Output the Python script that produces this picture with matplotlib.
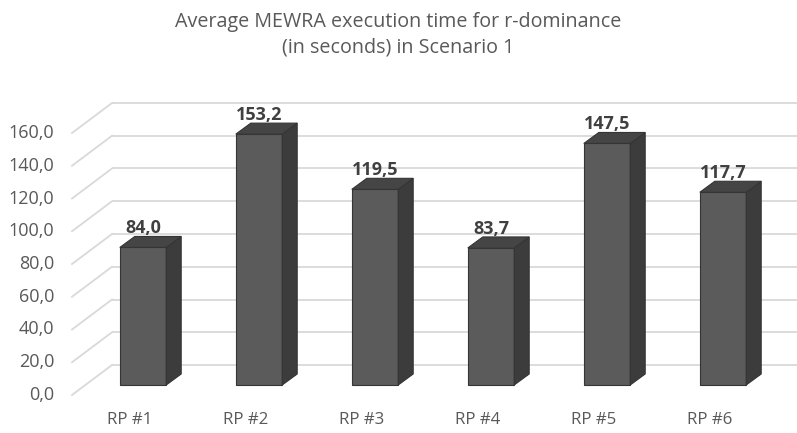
import matplotlib
matplotlib.use("Agg")
import matplotlib.pyplot as plt
from matplotlib.patches import Polygon

categories = ["RP #1", "RP #2", "RP #3", "RP #4", "RP #5", "RP #6"]
values = [84.0, 153.2, 119.5, 83.7, 147.5, 117.7]
value_labels = ["84,0", "153,2", "119,5", "83,7", "147,5", "117,7"]
y_ticks = [0, 20, 40, 60, 80, 100, 120, 140, 160]
y_tick_labels = ["0,0", "20,0", "40,0", "60,0", "80,0", "100,0", "120,0", "140,0", "160,0"]
title = "Average MEWRA execution time for r-dominance\n(in seconds) in Scenario 1"

W, H, DPI = 797, 433, 100
FONT = ["Open Sans", "DejaVu Sans"]

fig = plt.figure(figsize=(W / DPI, H / DPI), dpi=DPI)
fig.patch.set_facecolor("white")

# axes plane = front faces of the bars
ax_left, ax_right = 85, 781
ax_bottom_px, ax_top_px = 385, 123
ax = fig.add_axes([ax_left / W, (H - ax_bottom_px) / H,
                   (ax_right - ax_left) / W, (ax_bottom_px - ax_top_px) / H])
ax.set_xlim(-0.5, len(categories) - 0.5)
ax.set_ylim(0, 160)
ax.axis("off")

px_x = (ax_right - ax_left) / len(categories)   # pixels per category
px_y = (ax_bottom_px - ax_top_px) / 160.0        # pixels per value unit


def shift(dx_px, dy_px):
    """Pixel offset (right, up) expressed in data units."""
    return dx_px / px_x, dy_px / px_y


def px_to_x(px):
    return -0.5 + (px - ax_left) / px_x


# depth planes relative to the bar front plane
front_dx, front_dy = shift(-13.3, -10)   # wall front edge (tick labels)
back_dx, back_dy = shift(26.7, 20)       # back wall
bar_dx, bar_dy = shift(15, 11)           # bar depth

grid_col = "#d9d9d9"
wall_x0 = px_to_x(72)
wall_x1 = px_to_x(112)
x_end = px_to_x(W)

for g, glab in zip(y_ticks, y_tick_labels):
    # back wall gridline
    ax.plot([wall_x1, x_end], [g + back_dy, g + back_dy], color=grid_col,
            lw=1.3, clip_on=False, zorder=1, solid_capstyle="butt")
    # side wall diagonal
    ax.plot([wall_x0, wall_x1], [g + front_dy, g + back_dy], color=grid_col,
            lw=1.3, clip_on=False, zorder=1)
    ax.text(wall_x0 - 18 / px_x, g + front_dy, glab, ha="right", va="center",
            fontsize=13, color="#595959", family=FONT)

w = 0.4
front_col = "#5b5b5b"
side_col = "#3c3c3c"
top_col = "#454545"
edge_col = "#353535"

for i, (v, lab) in enumerate(zip(values, value_labels)):
    xl, xr = i - w / 2, i + w / 2
    ax.bar(i, v, width=w, color=front_col, edgecolor=edge_col, lw=0.8,
           zorder=3, clip_on=False)
    side = Polygon([(xr, 0), (xr, v), (xr + bar_dx, v + bar_dy),
                    (xr + bar_dx, bar_dy)], closed=True,
                   facecolor=side_col, edgecolor=edge_col, lw=0.8,
                   zorder=3, clip_on=False)
    top = Polygon([(xl, v), (xr, v), (xr + bar_dx, v + bar_dy),
                   (xl + bar_dx, v + bar_dy)], closed=True,
                  facecolor=top_col, edgecolor=edge_col, lw=0.8,
                  zorder=3, clip_on=False)
    ax.add_patch(side)
    ax.add_patch(top)
    ax.text(i, v + 14 / px_y, lab, ha="center", va="baseline",
            fontsize=13, fontweight="bold", color="#404040", family=FONT,
            zorder=4)
    ax.text(i + front_dx, front_dy - 25 / px_y, categories[i], ha="center",
            va="center", fontsize=12.2, color="#595959", family=FONT)

fig.text(0.5, 1 - 35 / H, title, ha="center", va="center", fontsize=14.2,
         color="#595959", family=FONT, linespacing=1.35)

fig.savefig("out.png", dpi=DPI, facecolor="white")
